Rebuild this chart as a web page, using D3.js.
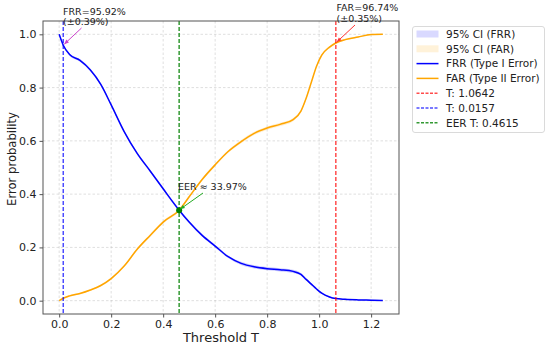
<!DOCTYPE html>
<html><head><meta charset="utf-8">
<script src="https://cdn.jsdelivr.net/npm/d3@7"></script>
<style>body{margin:0;background:#fff}svg{display:block}text{font-family:"DejaVu Sans",sans-serif}</style>
</head><body><svg id="c" width="550" height="347"></svg>
<script>
const thresholds = [0, 0.0157, 0.04, 0.08, 0.12, 0.16, 0.2, 0.25, 0.3, 0.35, 0.4, 0.4615, 0.5, 0.55, 0.6, 0.65, 0.7, 0.75, 0.8, 0.85, 0.9, 0.93, 0.95, 0.97, 0.99, 1.01, 1.04, 1.0642, 1.1, 1.15, 1.2, 1.245];
const frr = [1.0, 0.959, 0.924, 0.902, 0.866, 0.812, 0.735, 0.635, 0.553, 0.487, 0.42, 0.3397, 0.295, 0.245, 0.205, 0.165, 0.14, 0.127, 0.12, 0.116, 0.11, 0.099, 0.08, 0.062, 0.044, 0.028, 0.014, 0.008, 0.005, 0.003, 0.002, 0.001];
const far = [0.0, 0.009, 0.018, 0.027, 0.04, 0.057, 0.083, 0.13, 0.193, 0.245, 0.295, 0.3397, 0.39, 0.455, 0.51, 0.56, 0.597, 0.628, 0.648, 0.662, 0.68, 0.712, 0.76, 0.82, 0.88, 0.922, 0.952, 0.9674, 0.98, 0.99, 0.999, 1.0];
const frrCI = [0.002, 0.004, 0.004, 0.005, 0.005, 0.005, 0.005, 0.005, 0.005, 0.005, 0.005, 0.005, 0.005, 0.005, 0.005, 0.005, 0.006, 0.006, 0.006, 0.006, 0.006, 0.005, 0.005, 0.004, 0.004, 0.003, 0.003, 0.003, 0.002, 0.002, 0.002, 0.001];
const farCI = [0.001, 0.002, 0.003, 0.003, 0.003, 0.004, 0.004, 0.004, 0.004, 0.005, 0.005, 0.005, 0.005, 0.005, 0.005, 0.005, 0.006, 0.006, 0.006, 0.006, 0.006, 0.005, 0.005, 0.004, 0.004, 0.004, 0.004, 0.0035, 0.003, 0.002, 0.002, 0.001];
const xTicks = [0.0, 0.2, 0.4, 0.6, 0.8, 1.0, 1.2];
const yTicks = [0.0, 0.2, 0.4, 0.6, 0.8, 1.0];
const vLines = [
  {t: 1.0642, label: "T: 1.0642", color: "#ff0000", op: 0.7},
  {t: 0.0157, label: "T: 0.0157", color: "#0000ff", op: 0.7},
  {t: 0.4615, label: "EER T: 0.4615", color: "#008000", op: 0.8}
];
const eer = {t: 0.4615, v: 0.3397, label: "EER ≈ 33.97%"};
const frrNote = {t: 0.0157, v: 0.9592, lines: ["FRR=95.92%", "(±0.39%)"]};
const farNote = {t: 1.0642, v: 0.9674, lines: ["FAR=96.74%", "(±0.35%)"]};

const svg = d3.select("#c");
const L = 43, R = 399, T = 21, B = 314;
const x = d3.scaleLinear().domain([-0.06225, 1.30725]).range([L, R]);
const y = d3.scaleLinear().domain([-0.05, 1.05]).range([B, T]);

// grid
const g = svg.append("g");
g.selectAll(".gx").data(xTicks).join("line")
  .attr("x1", d => x(d)).attr("x2", d => x(d)).attr("y1", T).attr("y2", B)
  .attr("stroke", "#b0b0b0").attr("stroke-opacity", 0.5).attr("stroke-width", 0.8).attr("stroke-dasharray", "2.5,2");
g.selectAll(".gy").data(yTicks).join("line")
  .attr("x1", L).attr("x2", R).attr("y1", d => y(d)).attr("y2", d => y(d))
  .attr("stroke", "#b0b0b0").attr("stroke-opacity", 0.5).attr("stroke-width", 0.8).attr("stroke-dasharray", "2.5,2");

const idx = d3.range(thresholds.length);
const curve = d3.curveMonotoneX;
// CI bands
const areaF = d3.area().curve(curve).x(i => x(thresholds[i])).y0(i => y(frr[i] - frrCI[i])).y1(i => y(frr[i] + frrCI[i]));
const areaA = d3.area().curve(curve).x(i => x(thresholds[i])).y0(i => y(far[i] - farCI[i])).y1(i => y(far[i] + farCI[i]));
svg.append("path").attr("d", areaF(idx)).attr("fill", "#0000ff").attr("fill-opacity", 0.2);
svg.append("path").attr("d", areaA(idx)).attr("fill", "#ffa500").attr("fill-opacity", 0.2);
// lines
const lineF = d3.line().curve(curve).x(i => x(thresholds[i])).y(i => y(frr[i]));
const lineA = d3.line().curve(curve).x(i => x(thresholds[i])).y(i => y(far[i]));
svg.append("path").attr("d", lineF(idx)).attr("fill", "none").attr("stroke", "#0000ff").attr("stroke-width", 1.5);
svg.append("path").attr("d", lineA(idx)).attr("fill", "none").attr("stroke", "#ffa500").attr("stroke-width", 1.5);

// vertical lines
svg.selectAll(".vl").data(vLines).join("line")
  .attr("x1", d => x(d.t)).attr("x2", d => x(d.t)).attr("y1", T).attr("y2", B)
  .attr("stroke", d => d.color).attr("stroke-opacity", d => d.op).attr("stroke-width", 1.5).attr("stroke-dasharray", "4,2");

// spines
svg.append("rect").attr("x", L).attr("y", T).attr("width", R - L).attr("height", B - T)
  .attr("fill", "none").attr("stroke", "#555").attr("stroke-width", 1);

// axes ticks
const ax = svg.append("g").attr("transform", `translate(0,${B})`)
  .call(d3.axisBottom(x).tickValues(xTicks).tickFormat(d3.format(".1f")).tickSize(3.5).tickPadding(3));
const ay = svg.append("g").attr("transform", `translate(${L},0)`)
  .call(d3.axisLeft(y).tickValues(yTicks).tickFormat(d3.format(".1f")).tickSize(3.5).tickPadding(3));
[ax, ay].forEach(a => {
  a.attr("font-family", null);
  a.select(".domain").remove();
  a.selectAll("line").attr("stroke", "#555");
  a.selectAll("text").attr("font-size", 11).attr("fill", "#222").attr("font-family", "DejaVu Sans");
});

// axis labels
svg.append("text").attr("x", (L + R) / 2).attr("y", 342).attr("text-anchor", "middle")
  .attr("font-size", 13).attr("fill", "#222").text("Threshold T");
svg.append("text").attr("transform", `translate(15.5,159) rotate(-90)`).attr("text-anchor", "middle")
  .attr("font-size", 11.6).attr("fill", "#222").text("Error probability");

// markers & annotations
function arrow(x1, y1, x2, y2, color) {
  svg.append("line").attr("x1", x1).attr("y1", y1).attr("x2", x2).attr("y2", y2)
    .attr("stroke", color).attr("stroke-width", 1);
  const a = Math.atan2(y2 - y1, x2 - x1), s = 5;
  const p = [[x2, y2], [x2 - s * Math.cos(a - 0.4), y2 - s * Math.sin(a - 0.4)], [x2 - s * Math.cos(a + 0.4), y2 - s * Math.sin(a + 0.4)]];
  svg.append("path").attr("d", d3.line()(p) + "Z").attr("fill", color);
}
svg.append("circle").attr("cx", x(eer.t)).attr("cy", y(eer.v)).attr("r", 3).attr("fill", "#008000");
arrow(203, 193, x(eer.t) + 1, y(eer.v) - 1, "#22aa22");
svg.append("text").attr("x", 178).attr("y", 190).attr("font-size", 9.5).attr("fill", "#222").text(eer.label);

arrow(81.5, 28, x(frrNote.t) + 1, y(frrNote.v) - 1, "#cc44cc");
svg.append("text").attr("x", 63).attr("y", 14.5).attr("font-size", 9.5).attr("fill", "#222")
  .selectAll("tspan").data(frrNote.lines).join("tspan").attr("x", 63).attr("dy", (d, i) => i ? 10.5 : 0).text(d => d);

arrow(355, 25, x(farNote.t) + 1, y(farNote.v) - 1, "#ff3333");
svg.append("text").attr("x", 336.5).attr("y", 11).attr("font-size", 9.5).attr("fill", "#222")
  .selectAll("tspan").data(farNote.lines).join("tspan").attr("x", 336.5).attr("dy", (d, i) => i ? 10.5 : 0).text(d => d);

// legend
const leg = svg.append("g");
leg.append("rect").attr("x", 412.5).attr("y", 26.5).attr("width", 132).attr("height", 106).attr("rx", 2.5)
  .attr("fill", "#fff").attr("fill-opacity", 0.8).attr("stroke", "#d0d0d0").attr("stroke-width", 0.8);
const items = [
  {type: "patch", color: "#0000ff", label: "95% CI (FRR)"},
  {type: "patch", color: "#ffa500", label: "95% CI (FAR)"},
  {type: "line", color: "#0000ff", label: "FRR (Type I Error)"},
  {type: "line", color: "#ffa500", label: "FAR (Type II Error)"},
  ...vLines.map(v => ({type: "dash", color: v.color, op: v.op, label: v.label}))
];
items.forEach((it, i) => {
  const cy = 34 + i * 14.8;
  if (it.type === "patch") {
    leg.append("rect").attr("x", 416.5).attr("y", cy - 3.5).attr("width", 22).attr("height", 7)
      .attr("fill", it.color).attr("fill-opacity", 0.15);
  } else {
    leg.append("line").attr("x1", 416.5).attr("x2", 438.5).attr("y1", cy).attr("y2", cy)
      .attr("stroke", it.color).attr("stroke-width", 1.5)
      .attr("stroke-opacity", it.op || 1).attr("stroke-dasharray", it.type === "dash" ? "3,1.5" : null);
  }
  leg.append("text").attr("x", 446).attr("y", cy + 3.7).attr("font-size", 10.5).attr("fill", "#222").text(it.label);
});
</script></body></html>
